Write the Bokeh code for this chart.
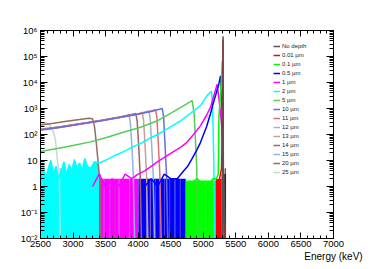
import numpy as np
from bokeh.plotting import figure
from bokeh.models import (Range1d, FixedTicker, SingleIntervalTicker, LinearAxis, LogAxis,
                          CustomJSTickFormatter, Legend, LegendItem, Label)
from bokeh.embed import file_html
from bokeh.resources import INLINE

# ---------------- data ----------------
X_MIN, X_MAX = 2500, 7000
Y_MIN, Y_MAX = 1e-2, 1e6
X_LABEL = "Energy (keV)"
Y_TICKS = [1e-2, 1e-1, 1, 10, 1e2, 1e3, 1e4, 1e5, 1e6]
Y_TICK_LABELS = ["10\u207b\u00b2", "10\u207b\u00b9", "1", "10", "10\u00b2", "10\u00b3",
                 "10\u2074", "10\u2075", "10\u2076"]

LABELS = ["No depth", "0.01 \u00b5m", "0.1 \u00b5m", "0.5 \u00b5m", "1 \u00b5m", "2 \u00b5m",
          "5 \u00b5m", "10 \u00b5m", "11 \u00b5m", "12 \u00b5m", "13 \u00b5m", "14 \u00b5m",
          "15 \u00b5m", "20 \u00b5m", "25 \u00b5m"]
COLORS = ["#555555", "#ff0000", "#00ff00", "#0000ff", "#ff00ff", "#00ffff",
          "#55cc55", "#6b6bde", "#e07070", "#a0b0d0", "#c8a090", "#a06070",
          "#90b0f0", "#9a6a5a", "#c0dcd4"]

E_0 = [5290, 5300, 5304, 5308, 5340]
C_0 = [0, 5, 600000, 5, 0]
E_001 = [5200, 5250, 5280, 5296, 5302, 5308, 5320]
C_001 = [1, 2, 5, 200, 450000, 3, 0]
E_01 = [4750, 4900, 5050, 5150, 5200, 5230, 5240, 5270, 5292, 5300, 5312]
C_01 = [1, 2, 1, 2, 2, 3, 500, 5000, 70000, 100, 0]
E_05 = [4100, 4200, 4300, 4400, 4500, 4600, 4700, 4760, 4830, 4900, 4958, 5050, 5111,
        5150, 5200, 5240, 5265, 5285, 5298, 5310]
C_05 = [1, 2, 1, 3, 2, 2, 4, 6, 12, 25, 50, 200, 630, 1500, 4000, 9000, 18000, 2000, 100, 0]
E_1 = [3300, 3400, 3500, 3600, 3700, 3800, 3900, 4000, 4100, 4200, 4300, 4420, 4530, 4650,
       4750, 4850, 4958, 5050, 5111, 5160, 5214, 5250, 5280, 5295, 5305]
C_1 = [1, 3, 1, 2, 1, 3, 2, 3, 4, 6, 9, 14, 21, 32, 50, 100, 220, 550, 1100, 3000, 8500,
       1500, 250, 10, 0]
E_2 = [2500, 2540, 2580, 2620, 2660, 2700, 2740, 2780, 2820, 2860, 2900, 2940, 2980, 3020,
       3060, 3100, 3140, 3180, 3220, 3270, 3330, 3400, 3530, 3650, 3775, 3900, 4036, 4170,
       4300, 4420, 4530, 4650, 4766, 4880, 4958, 5060, 5127, 5145, 5160, 5175]
C_2 = [3, 8, 2, 5, 10, 3, 6, 2, 4, 9, 3, 7, 4, 11, 5, 8, 4, 12, 6, 5, 9, 8, 11, 16, 22, 32,
       45, 70, 100, 150, 220, 330, 560, 900, 1300, 3200, 4600, 800, 15, 0]
E_5 = [2500, 2800, 3000, 3270, 3500, 3775, 4036, 4300, 4530, 4700, 4830, 4860, 4880, 4900, 4915]
C_5 = [22, 30, 38, 52, 75, 123, 190, 340, 720, 1300, 2000, 600, 60, 5, 0]
E_10 = [2500, 2800, 3100, 3400, 3700, 4000, 4200, 4370, 4390, 4415, 4435, 4455]
C_10 = [152, 192, 252, 332, 452, 612, 762, 1000, 500, 30, 3, 0]
E_11 = [2500, 2800, 3100, 3400, 3700, 4000, 4268, 4288, 4313, 4333, 4353]
C_11 = [148, 188, 248, 328, 448, 605, 900, 450, 30, 3, 0]
E_12 = [2500, 2800, 3100, 3400, 3700, 4000, 4165, 4185, 4210, 4230, 4250]
C_12 = [155, 196, 256, 336, 456, 615, 800, 400, 30, 3, 0]
E_13 = [2500, 2800, 3100, 3400, 3700, 4000, 4063, 4083, 4108, 4128, 4148]
C_13 = [145, 185, 245, 325, 445, 600, 720, 360, 30, 3, 0]
E_14 = [2500, 2800, 3100, 3400, 3700, 3965, 3985, 4010, 4030, 4050]
C_14 = [158, 200, 260, 340, 460, 640, 320, 30, 3, 0]
E_15 = [2500, 2800, 3100, 3400, 3700, 3860, 3880, 3905, 3925, 3945]
C_15 = [150, 195, 255, 330, 440, 560, 280, 30, 3, 0]
E_20 = [2500, 2700, 2900, 3100, 3240, 3300, 3330, 3360, 3390, 3410, 3420]
C_20 = [230, 270, 320, 380, 420, 400, 200, 40, 6, 2, 0]
E_25 = [2500, 2580, 2650, 2700, 2730, 2760, 2790, 2800]
C_25 = [250, 290, 220, 120, 60, 10, 3, 0]

# low-count region (bins of 1-2 counts), coloured by the spectrum on top
BAND_E0 = [2500, 3270, 4005, 4730, 5190, 5280]
BAND_E1 = [3270, 4005, 4730, 5190, 5280, 5350]
BAND_TOP = [2, 2, 2, 1.7, 2, 3]
BAND_COLOR = ["#00ffff", "#ff00ff", "#0000ff", "#00ff00", "#ff0000", "#444444"]
STRIPE_E0 = [2790, 3000, 3040, 3100, 3160, 3420, 3470, 3560, 3640, 3700, 3860, 4120, 4180,
             4260, 4330, 4400, 4480, 4560, 4640, 5030, 5330]
STRIPE_E1 = [2850, 3010, 3050, 3112, 3170, 3430, 3480, 3570, 3650, 3712, 3870, 4130, 4190,
             4270, 4340, 4410, 4490, 4570, 4650, 5038, 5345]
STRIPE_TOP = [5, 2, 2, 2, 2, 3, 2, 2, 2, 2, 2, 2, 2, 2, 2, 2, 2, 2, 2, 2, 5]
STRIPE_COLOR = ["#c0c8c4", "#8866ff", "#4060ff", "#ff44ff", "#aa66ff", "#9a6a5a", "#b080ff",
                "#9090f0", "#a06070", "#c080ff", "#90b0f0", "#a0b0d0", "#c8a090", "#a06070",
                "#e07070", "#6b6bde", "#9a6a5a", "#a0b0d0", "#7070c0", "#90c090", "#222222"]

SERIES_E = [E_0, E_001, E_01, E_05, E_1, E_2, E_5, E_10, E_11, E_12, E_13, E_14, E_15, E_20, E_25]
SERIES_C = [C_0, C_001, C_01, C_05, C_1, C_2, C_5, C_10, C_11, C_12, C_13, C_14, C_15, C_20, C_25]

# ---------------- figure ----------------
FONT = "Liberation Sans"
p = figure(width=366, height=266, x_range=Range1d(X_MIN, X_MAX), y_range=Range1d(Y_MIN, Y_MAX),
           y_axis_type="log", output_backend="svg", toolbar_location=None,
           min_border_left=40, min_border_right=33, min_border_top=30, min_border_bottom=28)
p.xgrid.visible = False
p.ygrid.visible = False
p.outline_line_color = "black"
p.background_fill_color = "white"

xt = SingleIntervalTicker(interval=500, num_minor_ticks=5)
minor_y = [m * d for d in Y_TICKS[:-1] for m in range(2, 10)]
yt = FixedTicker(ticks=Y_TICKS, minor_ticks=minor_y)
yfmt = CustomJSTickFormatter(args=dict(labels=Y_TICK_LABELS),
                             code="return labels[Math.round(Math.log10(tick)) + 2];")
blank = CustomJSTickFormatter(code="return '';")

def style_axis(ax, major_in, minor_in):
    ax.major_tick_in = major_in
    ax.major_tick_out = 0
    ax.minor_tick_in = minor_in
    ax.minor_tick_out = 0
    ax.axis_line_color = "black"
    ax.major_tick_line_color = "black"
    ax.minor_tick_line_color = "black"
    ax.major_label_text_font = FONT
    ax.major_label_text_font_size = "9.5px"
    ax.major_label_text_color = "black"
    ax.major_label_standoff = 2

p.xaxis.ticker = xt
style_axis(p.xaxis[0], 6, 3)
p.yaxis.ticker = yt
p.yaxis.formatter = yfmt
style_axis(p.yaxis[0], 7, 4)
p.yaxis.major_label_standoff = 3

xax = p.xaxis[0]
if "axis_label_align" in xax.properties():
    xax.axis_label = X_LABEL
    xax.axis_label_align = "end"
    xax.axis_label_standoff = 1
    xax.axis_label_text_font = FONT
    xax.axis_label_text_font_size = "10px"
    xax.axis_label_text_font_style = "normal"
    xax.axis_label_text_color = "black"
else:
    p.add_layout(Label(x=293, y=-19, x_units="screen", y_units="screen", text=X_LABEL,
                       text_align="right", text_baseline="middle", text_font=FONT,
                       text_font_size="10px", text_color="black"))

top_ax = LinearAxis(ticker=xt, formatter=blank)
style_axis(top_ax, 6, 3)
p.add_layout(top_ax, "above")
right_ax = LogAxis(ticker=yt, formatter=blank)
style_axis(right_ax, 7, 4)
p.add_layout(right_ax, "right")

# low-count bands
p.quad(left=BAND_E0, right=BAND_E1, bottom=Y_MIN, top=BAND_TOP, fill_color=BAND_COLOR,
       line_color=None)
p.quad(left=STRIPE_E0, right=STRIPE_E1, bottom=Y_MIN, top=STRIPE_TOP, fill_color=STRIPE_COLOR,
       line_color=None)

# cyan noisy region filled underneath
e2 = np.array(E_2, dtype=float)
c2 = np.clip(np.array(C_2, dtype=float), Y_MIN, None)
m = e2 <= 3400
p.varea(x=e2[m], y1=Y_MIN, y2=c2[m], fill_color="#00ffff")

renderers = {}
for i in reversed(range(len(LABELS))):
    e = np.array(SERIES_E[i], dtype=float)
    c = np.clip(np.array(SERIES_C[i], dtype=float), Y_MIN, None)
    r = p.line(e, c, line_color=COLORS[i], line_width=1.5)
    renderers[i] = r

items = [LegendItem(label=LABELS[i], renderers=[renderers[i]]) for i in range(len(LABELS))]
leg = Legend(items=items, location=(233, 62), border_line_color=None, background_fill_alpha=0,
             padding=0, margin=0, spacing=1, glyph_height=8, glyph_width=7, label_height=8,
             label_standoff=2, label_text_font=FONT, label_text_font_size="6px",
             label_text_color="#222222")
p.add_layout(leg)

open("out.html", "w").write(file_html(p, INLINE))
